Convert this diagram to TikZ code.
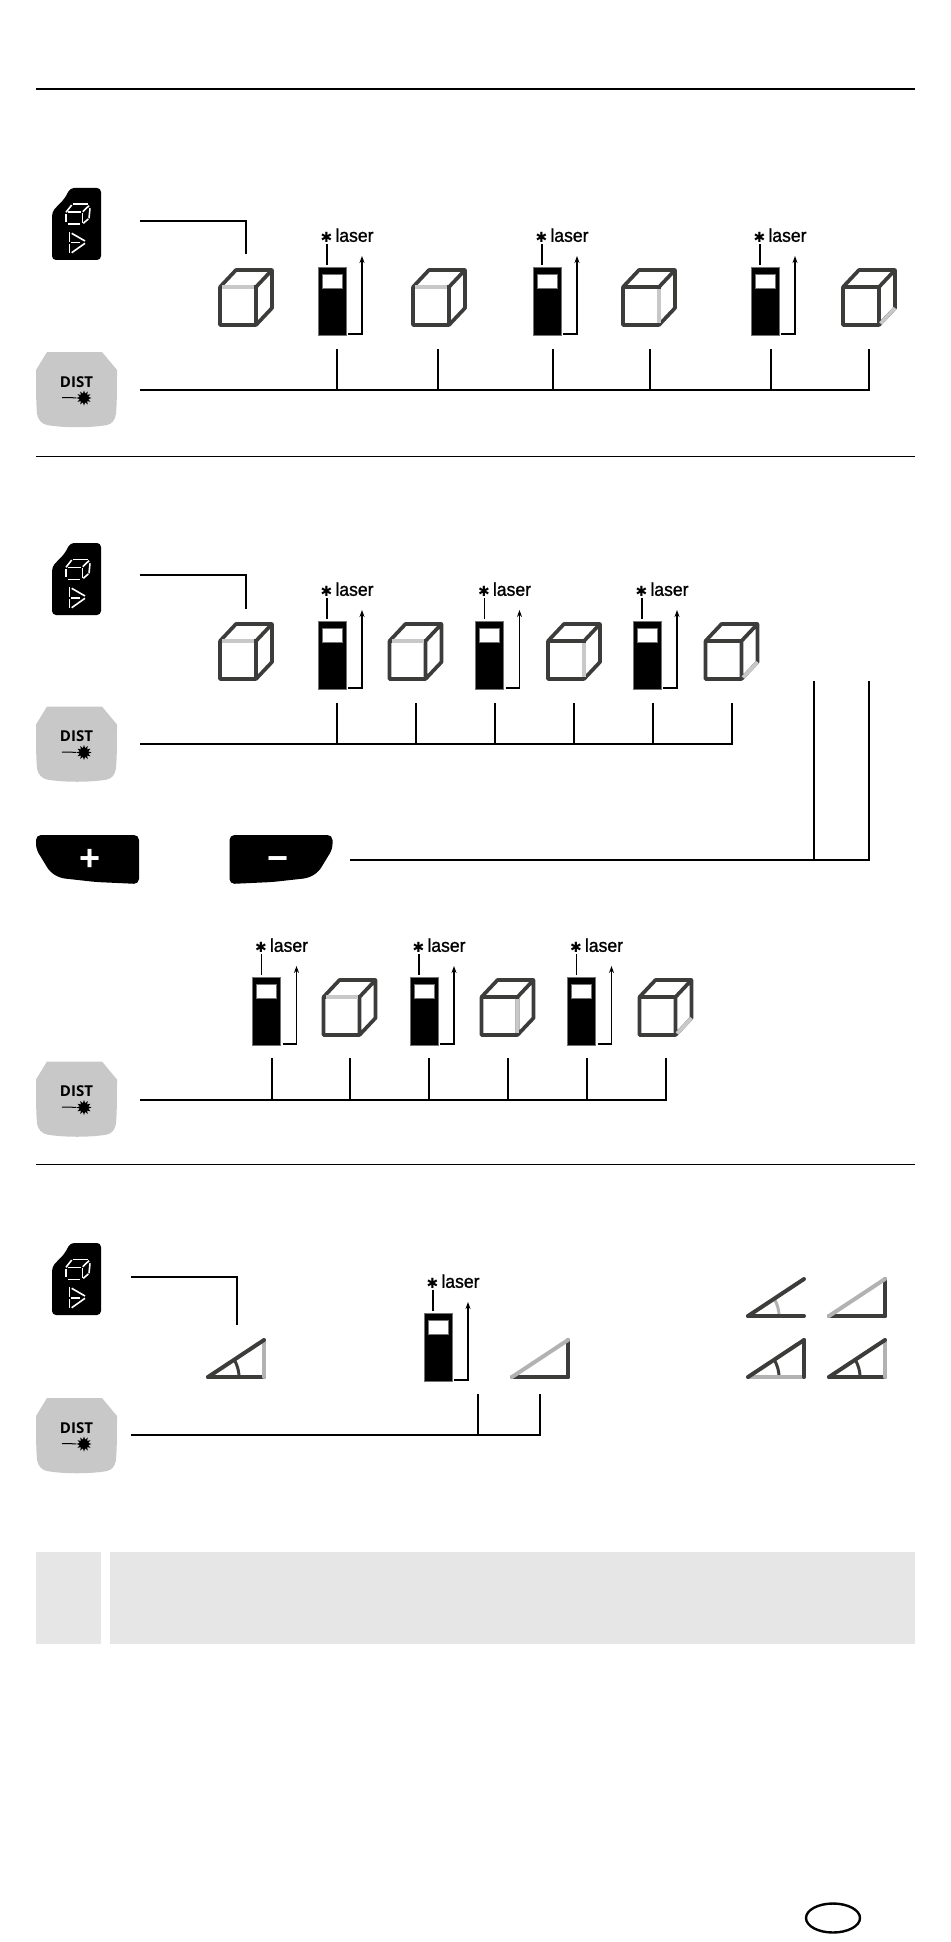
\documentclass[tikz,border=0pt]{standalone}
\usepackage{fontspec}
\setmainfont{Liberation Sans}
\newfontfamily\keyfont{Open Sans}
\newfontfamily\laserfont[FakeBold=1.2,FakeStretch=0.95]{Liberation Sans}
\newfontfamily\starfont{DejaVu Sans}
\usetikzlibrary{arrows.meta,shapes.geometric}
\definecolor{cubedark}{HTML}{3C3C3B}
\definecolor{cubepale}{HTML}{C8C8C8}
\definecolor{tripale}{HTML}{B2B2B2}
\definecolor{panelgrey}{HTML}{E6E6E6}
\tikzset{
  wire/.style={line width=2pt},
  rule/.style={line width=1pt,draw=black},
  pmglyph/.style={white,inner sep=0,font=\bfseries\fontsize{36}{36}\selectfont},
  % mode key with the small cube and triangle
  modekey/.pic={
    \fill[black,rounded corners=4pt] (0,72) -- (0,24) .. controls (6,17) and (12,13) .. (18,0) -- (49,0) -- (49,72) -- cycle;
    \foreach \a/\b/\c/\d in {14/24.3/19.7/17,20.7/16.3/36.3/16.3,16.3/24.3/28.7/24.3,14/26/14/33.7,16.3/36.3/28/36.3,30.3/25.3/30.3/35.3,38/20.3/37/30.3,31.3/35.3/36.3/31,30.7/23.7/37/17.7,17.3/44.3/17.3/53.7,17.3/56/17.3/65.3,19.7/45.3/33/53,19.7/64.7/33/55.3,18.7/54.7/28/54.7} {
      \draw[white,line width=1.6pt] (\a,\b) -- (\c,\d);
    }
  },
  % grey DIST key
  distkey/.pic={
    \fill[cubepale] (11,0) -- (66,0) -- (81,18) .. controls (81,35) and (81,50) .. (80,62) .. controls (79,68) and (76,72) .. (71,73) .. controls (55,76) and (27,76) .. (11,73) .. controls (6,72) and (2,68) .. (1,62) .. controls (0,50) and (0,35) .. (0,18) -- cycle;
    \node[inner sep=0,font=\keyfont\bfseries\fontsize{15}{15}\selectfont] (-txt) at (40.5,30) {DIST};
    \node[star,star points=12,star point ratio=1.7,fill=black,inner sep=0,minimum size=15pt] (-burst) at (48,46) {};
    \draw[line width=1pt] (26,45.5) -- (-burst);
  },
  % black plus or minus key
  pmkey/.pic={
    \fill[black,rounded corners=5pt] (0,0) -- (103,0) -- (103,49) -- (60,47) -- (24,43) -- (14,37) -- (0,14) -- cycle;
  },
  % meter with its laser label and arrow
  meter/.pic={
    \fill[black,draw=black!55,line width=0.6pt] (0,0) rectangle (28,68);
    \fill[white,draw=black!55,line width=0.6pt] (4,7) rectangle (24,21);
    \draw[line width=1.8pt] (9,-2) -- (9,-23);
    \node[anchor=base west,inner sep=0] (-txt) at (2.5,-25.2) {{\starfont\fontsize{14}{14}\selectfont\raisebox{-0.5pt}{✱}}\hspace{3pt}{\laserfont\fontsize{18.5}{18.5}\selectfont laser}};
    \draw[line width=1.7pt,-{Stealth[length=7pt,width=5pt]}] (30,67) -| (44,-11);
  },
  % cube, #1 is the edge that stays pale
  cube/.pic={
    \draw[cubedark,line width=3.7pt,line join=round,line cap=round] (0,0) rectangle (36,38) (0,0) -- (16,-17) -- (52,-17) -- (52,21) -- (36,38) (36,0) -- (52,-17);
    \draw[cubepale,line width=3.7pt] #1;
  },
}
\newcommand{\edgetop}{(2,0) -- (34,0)}
\newcommand{\edgeright}{(36,2) -- (36,36)}
\newcommand{\edgeback}{(37.5,36.5) -- (52,21)}
\begin{document}
\begin{tikzpicture}[x=1pt,y=-1pt]
  \useasboundingbox (0,0) rectangle (950,1942);
  % rules
  \draw[line width=1.8pt] (35.5,89) -- (914.5,89);
  \draw[rule] (35.5,456) -- (914.5,456);
  \draw[rule] (35.5,1164) -- (914.5,1164);

  % first row
  \pic (modeA) at (52,188) {modekey};
  \pic (distA) at (36,352) {distkey};
  \coordinate (modeAend) at (140,221);
  \coordinate (cubeAtop) at (245.5,254);
  \draw[wire] (modeAend) -| (cubeAtop);
  \foreach \x/\n in {318/A,533/B,751/C} {
    \pic (meter\n) at (\x,267) {meter};
  }
  \foreach \x/\e in {220/\edgetop,413/\edgetop,623/\edgeright,843/\edgeback} {
    \pic at (\x,287) {cube=\e};
  }
  \coordinate (distAend) at (140,390);
  \coordinate (tickAlast) at (869,349);
  \draw[wire] (distAend) -| (tickAlast);
  \foreach \x [count=\k] in {337,438,553,649.5,770.5} {
    \coordinate (tickA\k) at (\x,349);
    \draw[wire] (tickA\k) -- (tickA\k |- distAend);
  }

  % second row
  \pic (modeB) at (52,543) {modekey};
  \pic (distB) at (36,706.5) {distkey};
  \coordinate (modeBend) at (140,575);
  \coordinate (cubeBtop) at (245.5,609);
  \draw[wire] (modeBend) -| (cubeBtop);
  \foreach \x/\n in {318/D,475.5/E,633/F} {
    \pic (meter\n) at (\x,621) {meter};
  }
  \foreach \x/\e in {220/\edgetop,389.5/\edgetop,548/\edgeright,705.5/\edgeback} {
    \pic at (\x,641) {cube=\e};
  }
  \coordinate (distBend) at (140,744);
  \coordinate (tickBlast) at (732,703);
  \draw[wire] (distBend) -| (tickBlast);
  \foreach \x [count=\k] in {337,416,495,574,653} {
    \coordinate (tickB\k) at (\x,703);
    \draw[wire] (tickB\k) -- (tickB\k |- distBend);
  }

  % plus and minus keys
  \pic (plus) at (36,835) {pmkey};
  \pic[xscale=-1] (minus) at (332.5,835) {pmkey};
  \node[pmglyph] (plussign) at (90.5,860) {+};
  \node[pmglyph] (minussign) at (278,864) {−};
  \coordinate (minusend) at (350,859.5);
  \coordinate (upA) at (814,681);
  \coordinate (upB) at (869,681);
  \draw[wire] (minusend) -| (upB);
  \draw[wire] (upA) -- (upA |- minusend);

  % third row
  \pic (distC) at (36,1061.5) {distkey};
  \foreach \x/\n in {252.5/G,410/H,567.5/I} {
    \pic (meter\n) at (\x,977) {meter};
  }
  \foreach \x/\e in {323.5/\edgetop,481.5/\edgeright,639.5/\edgeback} {
    \pic at (\x,997) {cube=\e};
  }
  \coordinate (distCend) at (140,1099.5);
  \coordinate (tickClast) at (666,1058);
  \draw[wire] (distCend) -| (tickClast);
  \foreach \x [count=\k] in {272,350,429,508,587} {
    \coordinate (tickC\k) at (\x,1058);
    \draw[wire] (tickC\k) -- (tickC\k |- distCend);
  }

  % angle row
  \pic (modeD) at (52,1243) {modekey};
  \pic (distD) at (36,1398) {distkey};
  \coordinate (modeDend) at (131,1276.5);
  \coordinate (triDtop) at (236.5,1325);
  \draw[wire] (modeDend) -| (triDtop);
  \pic (meterJ) at (424,1313) {meter};
  \coordinate (distDend) at (131,1434.5);
  \coordinate (tickDlast) at (540,1394);
  \coordinate (tickDa) at (478,1394);
  \draw[wire] (distDend) -| (tickDlast);
  \draw[wire] (tickDa) -- (tickDa |- distDend);
  % triangles: corner, hypotenuse, base, side, arc
  \foreach \x/\y/\hyp/\base/\side/\arc in {
    208/1377/cubedark/cubedark/tripale/cubedark,
    512/1377/tripale/cubedark/cubedark/none,
    748/1316/cubedark/cubedark/none/tripale,
    829/1316/tripale/cubedark/cubedark/none,
    748/1377/cubedark/tripale/cubedark/cubedark,
    829/1377/cubedark/cubedark/tripale/cubedark} {
    \begin{scope}[shift={(\x,\y)},line width=4pt,line cap=round]
      \draw[draw=\arc,line width=3pt,line cap=butt] (31,0) .. controls (31,-6) and (29.5,-11) .. (26.5,-17);
      \draw[draw=\base] (0,0) -- (56,0);
      \draw[draw=\side] (56,0) -- (56,-37);
      \draw[draw=\hyp] (0,0) -- (56,-37);
    \end{scope}
  }

  % grey panels
  \fill[panelgrey] (36,1552) rectangle (100.5,1644);
  \fill[panelgrey] (110,1552) rectangle (914.5,1644);
  % page oval
  \node[draw,ellipse,line width=2.4pt,minimum width=54pt,minimum height=29pt,inner sep=0] (oval) at (833,1918) {};
\end{tikzpicture}
\end{document}
